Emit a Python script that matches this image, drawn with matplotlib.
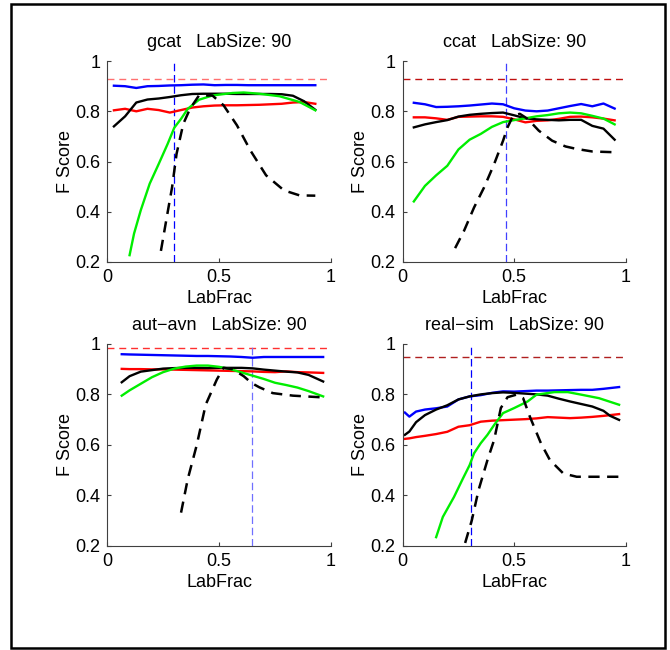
import numpy as np
import matplotlib
matplotlib.use("Agg")
import matplotlib.pyplot as plt
from matplotlib.patches import Rectangle

plt.rcParams["font.family"] = ["Liberation Sans", "DejaVu Sans"]
plt.rcParams["font.size"] = 13

# gcat
gcat_x = [0.03, 0.08, 0.13, 0.18, 0.23, 0.28, 0.33, 0.38, 0.43, 0.48,
          0.53, 0.58, 0.63, 0.68, 0.73, 0.78, 0.83, 0.88, 0.93]
gcat_blue = [0.902, 0.900, 0.893, 0.900, 0.901, 0.903, 0.904, 0.906, 0.907, 0.904,
             0.905, 0.905, 0.904, 0.904, 0.904, 0.904, 0.904, 0.904, 0.904]
gcat_black = [0.740, 0.780, 0.835, 0.847, 0.851, 0.857, 0.864, 0.869, 0.870, 0.870,
              0.870, 0.869, 0.869, 0.869, 0.869, 0.868, 0.862, 0.840, 0.806]
gcat_red = [0.804, 0.810, 0.800, 0.810, 0.805, 0.795, 0.805, 0.815, 0.820, 0.823,
            0.824, 0.824, 0.825, 0.826, 0.828, 0.830, 0.835, 0.837, 0.830]
gcat_green_x = [0.10, 0.12, 0.15, 0.19, 0.23, 0.27, 0.30, 0.33, 0.36, 0.41,
                0.47, 0.56, 0.61, 0.68, 0.77, 0.86, 0.93]
gcat_green = [0.227, 0.313, 0.406, 0.512, 0.590, 0.670, 0.735, 0.770, 0.810, 0.846,
              0.863, 0.873, 0.875, 0.870, 0.860, 0.837, 0.804]
gcat_dash_x = [0.24, 0.265, 0.29, 0.31, 0.34, 0.37, 0.41, 0.47, 0.52, 0.58,
               0.64, 0.71, 0.79, 0.86, 0.93]
gcat_dash = [0.244, 0.372, 0.498, 0.631, 0.750, 0.810, 0.863, 0.863, 0.824, 0.744,
             0.644, 0.545, 0.485, 0.465, 0.464]

# ccat
ccat_x = [0.05, 0.10, 0.15, 0.20, 0.25, 0.30, 0.35, 0.40, 0.45, 0.50,
          0.55, 0.60, 0.65, 0.70, 0.75, 0.80, 0.85, 0.90, 0.95]
ccat_blue = [0.834, 0.828, 0.817, 0.818, 0.820, 0.823, 0.827, 0.831, 0.828, 0.812,
             0.803, 0.800, 0.803, 0.812, 0.821, 0.829, 0.820, 0.831, 0.811]
ccat_black = [0.736, 0.748, 0.757, 0.765, 0.779, 0.786, 0.790, 0.793, 0.795, 0.784,
              0.772, 0.768, 0.766, 0.764, 0.766, 0.766, 0.742, 0.731, 0.687]
ccat_red = [0.776, 0.776, 0.772, 0.766, 0.778, 0.779, 0.780, 0.780, 0.778, 0.768,
            0.756, 0.762, 0.764, 0.770, 0.778, 0.779, 0.776, 0.771, 0.764]
ccat_green_x = ccat_x
ccat_green = [0.441, 0.503, 0.545, 0.583, 0.648, 0.687, 0.710, 0.738, 0.757, 0.765,
              0.772, 0.780, 0.785, 0.792, 0.795, 0.792, 0.782, 0.771, 0.748]
ccat_dash_x = [0.235, 0.275, 0.32, 0.365, 0.41, 0.45, 0.47, 0.495, 0.525, 0.56,
               0.61, 0.67, 0.73, 0.78, 0.85, 0.95]
ccat_dash = [0.255, 0.324, 0.417, 0.497, 0.590, 0.683, 0.736, 0.783, 0.790, 0.770,
             0.723, 0.683, 0.660, 0.650, 0.640, 0.637]

# aut-avn
autavn_x = [0.065, 0.10, 0.15, 0.20, 0.25, 0.30, 0.35, 0.40, 0.45, 0.50,
            0.55, 0.60, 0.65, 0.70, 0.75, 0.80, 0.85, 0.90, 0.965]
autavn_blue = [0.959, 0.958, 0.957, 0.956, 0.955, 0.954, 0.953, 0.952, 0.952, 0.951,
               0.950, 0.948, 0.945, 0.948, 0.948, 0.948, 0.948, 0.948, 0.948]
autavn_black = [0.848, 0.872, 0.890, 0.896, 0.902, 0.904, 0.905, 0.905, 0.904, 0.905,
                0.905, 0.905, 0.903, 0.898, 0.894, 0.890, 0.887, 0.877, 0.851]
autavn_red = [0.901, 0.900, 0.900, 0.899, 0.899, 0.898, 0.897, 0.896, 0.895, 0.894,
              0.893, 0.892, 0.891, 0.889, 0.888, 0.891, 0.888, 0.887, 0.885]
autavn_green_x = autavn_x
autavn_green = [0.795, 0.816, 0.842, 0.868, 0.888, 0.902, 0.910, 0.914, 0.914, 0.909,
                0.900, 0.887, 0.874, 0.861, 0.846, 0.837, 0.827, 0.813, 0.792]
autavn_dash_x = [0.33, 0.36, 0.40, 0.44, 0.49, 0.52, 0.56, 0.61, 0.645, 0.68,
                 0.74, 0.83, 0.965]
autavn_dash = [0.332, 0.465, 0.599, 0.759, 0.859, 0.905, 0.900, 0.872, 0.845, 0.828,
               0.805, 0.795, 0.788]

# real-sim
realsim_x = [0.01, 0.03, 0.06, 0.10, 0.15, 0.20, 0.25, 0.30, 0.35, 0.40, 0.45,
             0.50, 0.55, 0.60, 0.65, 0.70, 0.75, 0.80, 0.85, 0.90, 0.93, 0.97]
realsim_blue = [0.728, 0.712, 0.732, 0.740, 0.745, 0.752, 0.780, 0.792, 0.797, 0.806, 0.812,
                0.811, 0.813, 0.815, 0.815, 0.816, 0.817, 0.818, 0.818, 0.822, 0.825, 0.829]
realsim_black = [0.640, 0.653, 0.690, 0.718, 0.740, 0.757, 0.780, 0.792, 0.800, 0.805, 0.808,
                 0.806, 0.803, 0.800, 0.795, 0.783, 0.772, 0.762, 0.752, 0.735, 0.715, 0.699]
realsim_red = [0.624, 0.626, 0.631, 0.636, 0.643, 0.652, 0.672, 0.678, 0.692, 0.696, 0.698,
               0.700, 0.702, 0.705, 0.710, 0.708, 0.706, 0.708, 0.711, 0.715, 0.718, 0.722]
realsim_green_x = [0.15, 0.18, 0.23, 0.27, 0.30, 0.32, 0.35, 0.38, 0.41, 0.45,
                   0.50, 0.56, 0.60, 0.68, 0.74, 0.80, 0.88, 0.97]
realsim_green = [0.235, 0.315, 0.394, 0.467, 0.520, 0.567, 0.607, 0.640, 0.679, 0.726,
                 0.746, 0.772, 0.799, 0.809, 0.809, 0.799, 0.785, 0.759]
realsim_dash_x = [0.28, 0.31, 0.34, 0.38, 0.41, 0.44, 0.47, 0.51, 0.54, 0.57,
                  0.62, 0.66, 0.72, 0.78, 0.86, 0.97]
realsim_dash = [0.212, 0.302, 0.421, 0.540, 0.620, 0.746, 0.789, 0.799, 0.785, 0.712,
                0.606, 0.540, 0.487, 0.474, 0.474, 0.474]

titles = ["gcat   LabSize: 90", "ccat   LabSize: 90",
          "aut\u2212avn   LabSize: 90", "real\u2212sim   LabSize: 90"]
best_frac = [0.30, 0.465, 0.645, 0.305]
upper_bound = [0.93, 0.927, 0.985, 0.948]

fig = plt.figure(figsize=(6.7, 6.5), dpi=100)
positions = [[0.160, 0.597, 0.334, 0.309], [0.601, 0.597, 0.333, 0.309],
             [0.160, 0.160, 0.334, 0.311], [0.601, 0.160, 0.333, 0.311]]

panels = [
    (gcat_x, gcat_blue, gcat_black, gcat_red, gcat_green_x, gcat_green, gcat_dash_x, gcat_dash),
    (ccat_x, ccat_blue, ccat_black, ccat_red, ccat_green_x, ccat_green, ccat_dash_x, ccat_dash),
    (autavn_x, autavn_blue, autavn_black, autavn_red, autavn_green_x, autavn_green,
     autavn_dash_x, autavn_dash),
    (realsim_x, realsim_blue, realsim_black, realsim_red, realsim_green_x, realsim_green,
     realsim_dash_x, realsim_dash),
]
hline_colors = ["#ff7070", "#c01010", "#ff3030", "#b02020"]
vline_colors = ["#0000ff", "#4040ff", "#7070ff", "#0000ff"]

for i, (x, blue, black, red, gx, green, dx, dash) in enumerate(panels):
    ax = fig.add_axes(positions[i])
    ax.axhline(upper_bound[i], color=hline_colors[i], lw=1.0, linestyle=(0, (5, 3.5)))
    ax.axvline(best_frac[i], color=vline_colors[i], lw=0.9, linestyle=(0, (6, 3)))
    ax.plot(x, blue, color="#0000ff", lw=1.7)
    ax.plot(x, red, color="#ff0000", lw=1.7)
    ax.plot(x, black, color="black", lw=1.7)
    ax.plot(gx, green, color="#00ee00", lw=1.7)
    ax.plot(dx, dash, color="black", lw=1.8, linestyle=(0, (4.5, 3)))

    ax.set_xlim(0, 1)
    ax.set_ylim(0.2, 1)
    ax.set_xticks([0, 0.5, 1])
    ax.set_xticklabels(["0", "0.5", "1"])
    ax.set_yticks([0.2, 0.4, 0.6, 0.8, 1])
    ax.set_yticklabels(["0.2", "0.4", "0.6", "0.8", "1"])
    ax.spines["top"].set_visible(False)
    ax.spines["right"].set_visible(False)
    for side in ["left", "bottom"]:
        ax.spines[side].set_color("#404040")
        ax.spines[side].set_linewidth(0.8)
    ax.tick_params(direction="in", length=3, width=0.8, color="#404040", pad=5)
    ax.set_title(titles[i], fontsize=13, pad=10)
    ax.set_xlabel("LabFrac", labelpad=3)
    ax.set_ylabel("F Score", labelpad=1)

# outer frame around the whole figure
fig.add_artist(Rectangle((11 / 670, 2 / 650), 654 / 670, 644 / 650,
                         transform=fig.transFigure, fill=False,
                         edgecolor="black", lw=1.8))

fig.savefig("out.png", dpi=100)
